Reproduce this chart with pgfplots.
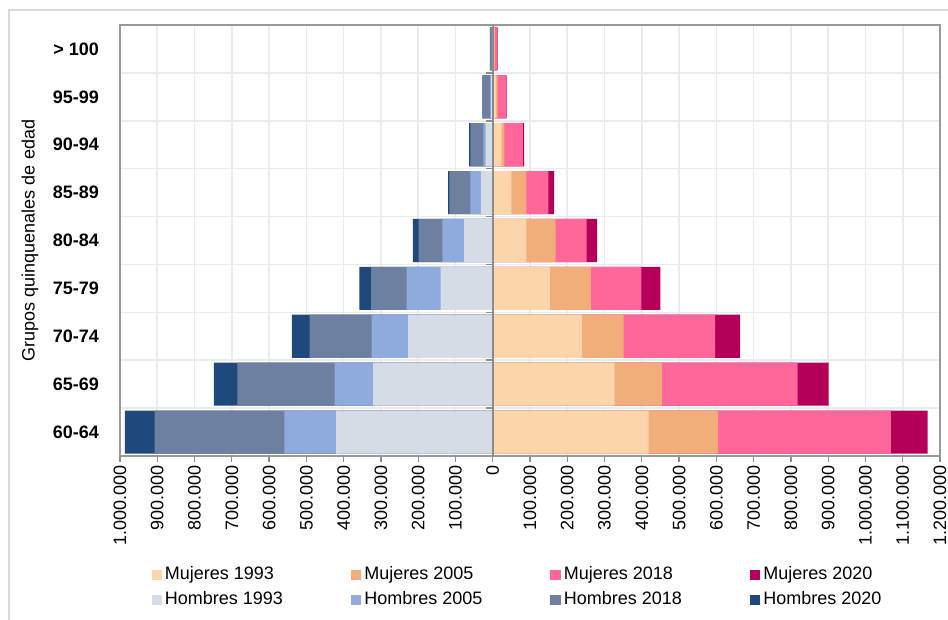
\documentclass[border=0pt]{standalone}
\usepackage{pgfplots}
\pgfplotsset{compat=1.18}
\usepackage{pgfplotstable}
\usepackage{fontspec}
\setmainfont{Liberation Sans}

\definecolor{mA}{RGB}{253,213,170}
\definecolor{mB}{RGB}{242,174,122}
\definecolor{mC}{RGB}{255,102,153}
\definecolor{mD}{RGB}{181,0,90}
\definecolor{hA}{RGB}{214,220,229}
\definecolor{hB}{RGB}{143,170,220}
\definecolor{hC}{RGB}{110,128,160}
\definecolor{hD}{RGB}{31,73,125}

% Hombres (plotted to the left, negative)
\pgfplotstableread{
y h1993 h2005 h2018 h2020
0 -420000 -559000 -907000 -987000
1 -321000 -424000 -685000 -748000
2 -227000 -325000 -491000 -539000
3 -140000 -231000 -326000 -358000
4 -77000 -135000 -199000 -214000
5 -32000 -60000 -116000 -120000
6 -19000 -25000 -60000 -63000
7 -4000 -7000 -27000 -28000
8 -1000 -2000 -7000 -7500
}\hombres

% Mujeres
\pgfplotstableread{
y m1993 m2005 m2018 m2020
0 418000 605000 1068000 1167000
1 327000 454000 818000 901000
2 240000 351000 597000 664000
3 153000 263000 399000 450000
4 90000 169000 252000 280000
5 50000 90000 149000 165000
6 24000 31000 81000 84000
7 9000 13000 36000 37000
8 3000 6000 12000 13000
}\mujeres

\begin{document}
\begin{tikzpicture}[font=\fontsize{9}{11}\selectfont]
\path[use as bounding box] (-60pt,-82pt) rectangle (414pt,228pt);
\draw[black!15, line width=1pt] (-55.5pt,-82pt) -- (-55.5pt,223pt) -- (414pt,223pt);
\begin{axis}[
  at={(0,0)}, anchor=south west,
  scale only axis, width=410pt, height=215.5pt,
  xbar, bar width=0.9, bar shift=0pt,
  xmin=-1000000, xmax=1200000, ymin=-0.5, ymax=8.5,
  enlargelimits=false,
  xtick={-1000000,-900000,-800000,-700000,-600000,-500000,-400000,-300000,-200000,-100000,0,100000,200000,300000,400000,500000,600000,700000,800000,900000,1000000,1100000,1200000},
  xticklabels={1.000.000,900.000,800.000,700.000,600.000,500.000,400.000,300.000,200.000,100.000,0,100.000,200.000,300.000,400.000,500.000,600.000,700.000,800.000,900.000,1.000.000,1.100.000,1.200.000},
  scaled x ticks=false,
  x tick label style={rotate=90, anchor=east, inner sep=1.5pt},
  ytick={0,1,2,3,4,5,6,7,8},
  yticklabels={60-64,65-69,70-74,75-79,80-84,85-89,90-94,95-99,> 100},
  y tick label style={font=\fontsize{9}{11}\selectfont\bfseries, xshift=-4pt},
  minor ytick={-0.5,0.5,1.5,2.5,3.5,4.5,5.5,6.5,7.5,8.5},
  xmajorgrids, yminorgrids,
  major grid style={black!8, line width=0.8pt},
  minor grid style={black!8, line width=0.8pt},
  tick align=outside,
  xtick pos=bottom,
  x tick style={black!45, line width=0.6pt},
  major tick length=3pt,
  minor tick length=0pt,
  y tick style={draw=none},
  axis line style={black!40, line width=0.8pt},
  legend columns=4, reverse legend,
  legend style={at={(rel axis cs:0.038,-0.249)}, anchor=north west, draw=none, fill=none,
    inner sep=0pt, row sep=1.5pt, nodes={inner sep=1.5pt},
    /tikz/every even column/.append style={column sep=32.5pt}},
  legend cell align=left,
  legend image code/.code={\fill[#1] (0pt,-2.6pt) rectangle (5.2pt,2.6pt);},
  ylabel={Grupos quinquenales de edad},
  every axis y label/.style={at={(rel axis cs:-0.1098,0.5)}, rotate=90, anchor=center},
]
\addplot[fill=hD, draw=none] table[x=h2020, y=y] {\hombres};
\addlegendentry{Hombres 2020}
\addplot[fill=hC, draw=none] table[x=h2018, y=y] {\hombres};
\addlegendentry{Hombres 2018}
\addplot[fill=hB, draw=none] table[x=h2005, y=y] {\hombres};
\addlegendentry{Hombres 2005}
\addplot[fill=hA, draw=none] table[x=h1993, y=y] {\hombres};
\addlegendentry{Hombres 1993}
\addplot[fill=mD, draw=none] table[x=m2020, y=y] {\mujeres};
\addlegendentry{Mujeres 2020}
\addplot[fill=mC, draw=none] table[x=m2018, y=y] {\mujeres};
\addlegendentry{Mujeres 2018}
\addplot[fill=mB, draw=none] table[x=m2005, y=y] {\mujeres};
\addlegendentry{Mujeres 2005}
\addplot[fill=mA, draw=none] table[x=m1993, y=y] {\mujeres};
\addlegendentry{Mujeres 1993}
\draw[black!45, line width=0.8pt] (axis cs:0,-0.5) -- (axis cs:0,8.5);
\pgfplotsinvokeforeach{0.5,1.5,2.5,3.5,4.5,5.5,6.5,7.5}{
  \draw[black!45, line width=0.8pt] (axis cs:0,#1) -- ++(-3.3pt,0pt);
}
\end{axis}
\end{tikzpicture}
\end{document}
